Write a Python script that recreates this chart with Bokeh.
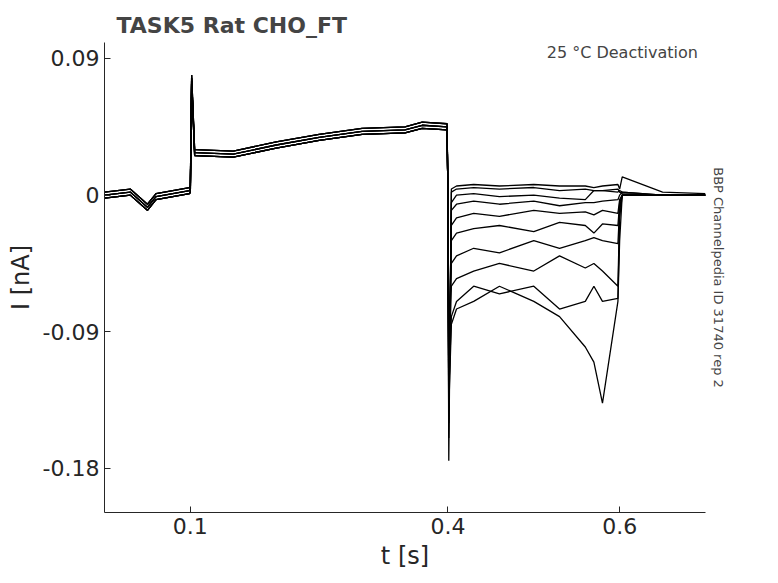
import numpy as np
from bokeh.plotting import figure
from bokeh.models import Label, FixedTicker, Range1d, Title
from bokeh.embed import file_html
from bokeh.resources import INLINE

t = [0.0, 0.03, 0.05, 0.06, 0.099, 0.1, 0.1015, 0.105, 0.15, 0.2, 0.25, 0.3, 0.35, 0.37, 0.399,
     0.4, 0.401, 0.404, 0.41, 0.43, 0.46, 0.5, 0.53, 0.56, 0.57, 0.58, 0.598, 0.6, 0.603, 0.65, 0.7]

pre = [0.0, 0.002, -0.008, -0.001, 0.003, 0.004, 0.077, 0.028, 0.027, 0.033, 0.038, 0.042, 0.043, 0.046, 0.045]

post_levels = [
    [0.0, -0.175, 0.004, 0.006, 0.007, 0.006, 0.007, 0.006, 0.006, 0.005, 0.006, 0.007, 0.004, 0.012, 0.002, 0.001],
    [0.0, -0.16, 0.002, 0.004, 0.005, 0.004, 0.005, 0.003, 0.004, 0.003, 0.003, 0.004, 0.002, 0.001, 0.0, 0.0],
    [0.0, -0.15, -0.005, 0.0, 0.001, -0.001, 0.0, -0.002, -0.003, 0.003, 0.003, 0.002, 0.003, 0.002, 0.0, 0.0],
    [0.0, -0.14, -0.01, -0.006, -0.004, -0.006, -0.004, -0.007, -0.005, -0.005, -0.004, -0.003, 0.0, 0.002, 0.0, 0.0],
    [0.0, -0.13, -0.02, -0.015, -0.012, -0.014, -0.01, -0.012, -0.011, -0.013, -0.01, -0.012, -0.003, 0.0, 0.0, 0.0],
    [0.0, -0.12, -0.03, -0.025, -0.022, -0.02, -0.024, -0.018, -0.02, -0.025, -0.019, -0.02, -0.005, 0.0, 0.0, 0.0],
    [0.0, -0.11, -0.045, -0.04, -0.035, -0.038, -0.03, -0.035, -0.03, -0.028, -0.03, -0.032, -0.008, 0.0, 0.0, 0.0],
    [0.0, -0.12, -0.06, -0.055, -0.05, -0.045, -0.05, -0.04, -0.048, -0.045, -0.05, -0.06, -0.01, 0.0, 0.0, 0.0],
    [0.0, -0.13, -0.08, -0.07, -0.06, -0.065, -0.06, -0.075, -0.07, -0.06, -0.07, -0.068, -0.015, 0.0, 0.0, 0.0],
    [0.0, -0.14, -0.085, -0.075, -0.07, -0.06, -0.07, -0.08, -0.1, -0.11, -0.137, -0.07, -0.03, 0.0, 0.0, 0.0],
]

xticks = [0.1, 0.4, 0.6]
yticks = [-0.18, -0.09, 0.0, 0.09]

p = figure(width=770, height=575, output_backend="svg", toolbar_location=None,
           x_range=Range1d(0.0, 0.7), y_range=Range1d(-0.209, 0.1005),
           min_border_left=104, min_border_right=65, min_border_top=42, min_border_bottom=63)
p.outline_line_color = None
p.grid.visible = False
p.background_fill_color = "white"

for k, post in enumerate(post_levels):
    ys = [v + 0.002 * ((k % 3) - 1) for v in pre] + post
    p.line(t, ys, line_color="black", line_width=1.3)

p.xaxis.ticker = FixedTicker(ticks=xticks)
p.yaxis.ticker = FixedTicker(ticks=yticks)
p.yaxis.major_label_overrides = {-0.18: "-0.18", -0.09: "-0.09", 0.0: "0", 0.09: "0.09"}
for ax in (p.xaxis, p.yaxis):
    ax.major_label_text_font_size = "22px"
    ax.major_label_text_font = "DejaVu Sans"
    ax.major_label_text_color = "#262626"
    ax.axis_label_text_font_size = "24px"
    ax.axis_label_text_font = "DejaVu Sans"
    ax.axis_label_text_font_style = "normal"
    ax.axis_label_text_color = "#262626"
    ax.minor_tick_line_color = None
    ax.major_tick_out = 0
    ax.major_tick_in = 6
    ax.axis_line_color = "#262626"
    ax.major_tick_line_color = "#262626"
p.xaxis.axis_label = "t [s]"
p.yaxis.axis_label = "I [nA]"

p.add_layout(Title(text="TASK5  Rat  CHO_FT", text_font="DejaVu Sans", text_font_style="bold",
                   text_font_size="22px", offset=12), "above")
p.add_layout(Title(text="BBP Channelpedia ID 31740 rep 2", text_font="DejaVu Sans",
                   text_font_style="normal", text_font_size="13px", align="center"), "right")
p.add_layout(Label(x=0.697, y=0.1003, text="25 °C  Deactivation", text_font="DejaVu Sans",
                   text_font_size="16px", text_align="right", text_baseline="top"))

open("out.html", "w").write(file_html(p, INLINE))
